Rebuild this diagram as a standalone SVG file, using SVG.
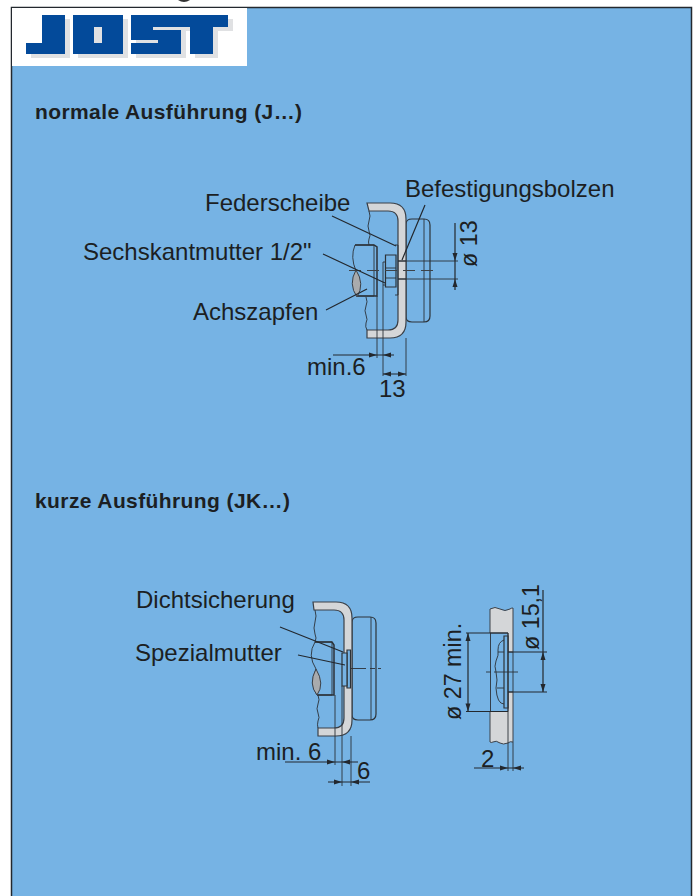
<svg xmlns="http://www.w3.org/2000/svg" width="696" height="896" viewBox="0 0 696 896">
<style>
text{font-family:"Liberation Sans",Arial,sans-serif;fill:#1c1f23}
.lbl{font-size:24px}
.r{font-size:23.300px}
.h{font-size:21px;font-weight:bold;letter-spacing:.4px}
.l{fill:none;stroke:#23282e;stroke-width:1.2}
.t{fill:none;stroke:#2b3138;stroke-width:.9}
.p{fill:#d4d6d8;stroke:#3a4048;stroke-width:1.2}
.n{fill:#76b3e4;stroke:#2c3238;stroke-width:1.2}
.d{fill:none;stroke:#3c4248;stroke-width:1;stroke-dasharray:12 6}
.a{fill:#23282e}
</style>
<rect width="696" height="896" fill="#fff"/>
<path d="M178 0Q184 4 190 0Z" fill="#333"/>
<rect x="11.500" y="7.500" width="680" height="889.500" fill="#76b3e4" stroke="#23282e" stroke-width="1.500"/>
<g id="logo">
<rect x="12" y="8" width="235" height="58" fill="#fff"/>
<g fill="#e0e1e3" transform="translate(5,4)">
<path d="M26 43H42V15H65V54H26Z"/><path d="M73 15H123V54H73Z"/><path d="M131 15H228V27H213V54H190V27H181V54H131Z"/>
</g>
<g fill="#034a9a">
<path d="M26 43H42V15H65V54H26Z"/>
<path fill-rule="evenodd" d="M73 15H123V54H73ZM94 27V43H102V27Z"/>
<path d="M131 15H228V27H213V54H190V27H153V30H181V54H131V43H158V40H131Z"/>
</g>
</g>
<g id="headings">
<text class="h" x="35" y="119">normale Ausführung (J…)</text>
<text class="h" x="35" y="508">kurze Ausführung (JK…)</text>
</g>
<g id="top-drawing">
<path class="n" d="M406 224Q406 219 412 219H424Q430 219 430 225V316Q430 322 424 322H412Q406 322 406 317Z"/>
<path class="t" d="M424 219V322"/>
<path class="p" d="M367 203H390Q406 203 406 219V322Q406 338 390 338H367V330H388Q398 330 398 320V221Q398 211 388 211H369Z"/>
<path class="t" d="M369 211q2 5 0 10q-2 5 0 10q2 5 0 8q-1 3 0 6M366 297q2 5 0 9q-2 5 0 9q2 5 0 8q-1 4 1 7"/>
<path class="t" d="M355 245H374V296H357Q352 284 356 271Q350 257 355 245Z"/>
<path d="M355 245H374L377 247V296H357" fill="none" stroke="#2c3238" stroke-width="1.500"/>
<path d="M356 270Q348 284 357 297Q365 284 356 270Z" fill="#a9abad" stroke="#3a4048"/>
<path class="n" d="M385.500 255H396V287H385.500Z"/>
<path class="t" d="M383 262H385.500V285H383ZM386 268H396M386 278H396"/>
<path class="t" d="M395 245H398V295H395"/>
<path class="d" d="M349 270.500H434"/>
<path d="M398 261H406M398 279H406" class="l" stroke-width="1.800"/>
</g>
<g id="bottom-drawing">
<path class="n" d="M352 622Q352 617 358 617H370Q376 617 376 623V714Q376 720 370 720H358Q352 720 352 715Z"/>
<path class="t" d="M371 617V720"/>
<path class="p" d="M313 602H336Q352 602 352 618V720Q352 736 336 736H318V728H334Q344 728 344 718V620Q344 610 334 610H314Z"/>
<path class="t" d="M315 610q2 6 0 12q-2 6 0 12q2 4 0 8M318 695q2 5 0 9q-2 5 0 9q2 5 0 8q-1 4 0 7"/>
<path class="t" d="M315 642H332V695H317Q309 684 316 669Q307 655 315 642Z"/>
<path d="M315 642H332L334 645V695H317" fill="none" stroke="#2c3238" stroke-width="1.500"/>
<path d="M316 669Q308 684 317 695Q325 684 316 669Z" fill="#a9abad" stroke="#3a4048"/>
<path class="n" d="M347 650H350.500V688H347Z"/>
<path class="n" d="M342 653H347V686H342Z"/>
<path class="t" d="M351 668.500H366M370 668.500H375M378 668.500H381"/>
</g>
<g id="side-drawing">
<path fill="#d4d6d8" stroke="#3a4048" d="M490 609q5 -3 10 0q5 3 10 0q1 -1 3 -1V652H508V633H490Z"/>
<path fill="#d4d6d8" stroke="#3a4048" d="M490 711.500H508V692H513V742q-3 -1 -5 1q-5 2 -8 0q-4 -3 -7 -1q-2 1 -3 0Z"/>
<path class="t" d="M490.500 633V711.500"/>
<path class="n" d="M504 636H508V708H504Z"/>
<path class="t" d="M504 640Q498 642 498 650Q499 655 496 661Q494 666 496 672Q498 680 496 688Q497 704 504 704"/>
<path class="t" d="M486 672H491M494 672H518M508 633V771M513 742V771M513 652V692M498 652H504M497 688H504"/>
<path class="l" d="M466 633H508M466 711.500H508M508 652H547M508 692H547"/>
</g>
<g id="connectors">
<path class="l" d="M332 216L396 246M425 205L402 260M323 254L385 283M326 310L367 289"/>
<path class="l" d="M280 627L343 652M298 655L345 665"/>
<path class="t" d="M377 296V358M383 285V376M406 338V376M458 261H398M458 279H398"/>
<path class="l" d="M455 223V290M333 355H394M383 374H406"/>
<path class="t" d="M335 695V765M342 686V786M351 736V786"/>
<path class="l" d="M285 762H358M328 782H370"/>
<path class="l" d="M468 633V711.500M543 590V692"/>
<path class="l" d="M474 768H524"/>
<g class="a">
<path d="M455 261l-2.500 -8h5zM455 279l-2.500 8h5z"/>
<path d="M377 355l-8 -2.500v5zM383 355l8 -2.500v5z"/>
<path d="M383 374l8 -2.500v5zM406 374l-8 -2.500v5z"/>
<path d="M335 762l-8 -2.500v5zM342 762l8 -2.500v5z"/>
<path d="M342 782l-8 -2.500v5zM351 782l8 -2.500v5z"/>
<path d="M468 633l-2.500 8h5zM468 711.500l-2.500 -8h5z"/>
<path d="M543 652l-2.500 8h5zM543 692l-2.500 -8h5z"/>
<path d="M508 768l-8 -2.500v5zM513 768l8 -2.500v5z"/>
</g>
</g>
<g id="labels">
<text class="lbl" x="205" y="211">Federscheibe</text>
<text class="lbl" x="405" y="197">Befestigungsbolzen</text>
<text class="lbl" x="83" y="260">Sechskantmutter 1/2"</text>
<text class="lbl" x="193" y="320">Achszapfen</text>
<text class="lbl" x="307" y="375">min.6</text>
<text class="lbl" x="379" y="397">13</text>
<text class="lbl r" transform="translate(477,267) rotate(-90)">ø 13</text>
<text class="lbl" x="136" y="608">Dichtsicherung</text>
<text class="lbl" x="135" y="661">Spezialmutter</text>
<text class="lbl" x="256" y="760">min. 6</text>
<text class="lbl" x="357" y="779">6</text>
<text class="lbl r" transform="translate(461,720) rotate(-90)">ø 27 min.</text>
<text class="lbl r" transform="translate(539,650) rotate(-90)">ø 15,1</text>
<text class="lbl" x="481" y="767">2</text>
</g>
</svg>
